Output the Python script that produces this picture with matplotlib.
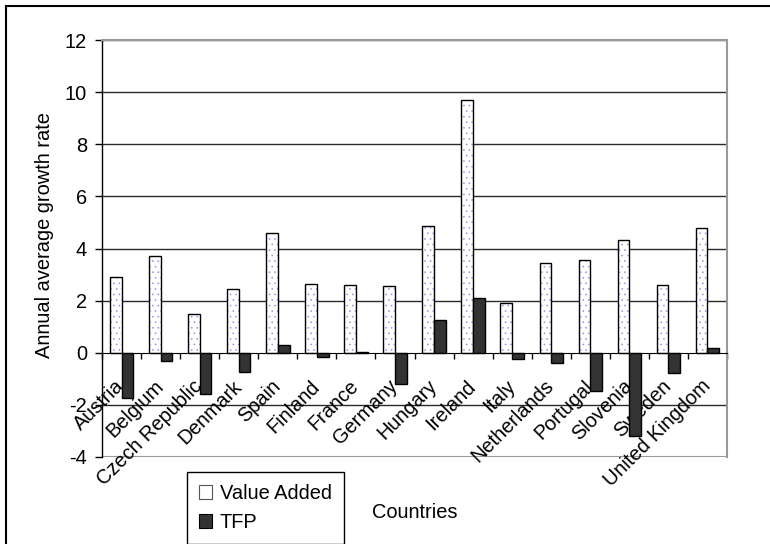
import numpy as np
import matplotlib.pyplot as plt
from matplotlib.patches import Rectangle

countries = ["Austria", "Belgium", "Czech Republic", "Denmark", "Spain", "Finland",
             "France", "Germany", "Hungary", "Ireland", "Italy", "Netherlands",
             "Portugal", "Slovenia", "Sweden", "United Kingdom"]
value_added = [2.9, 3.7, 1.5, 2.45, 4.6, 2.65, 2.6, 2.55, 4.85, 9.7, 1.9, 3.45,
               3.57, 4.32, 2.6, 4.78]
tfp = [-1.72, -0.31, -1.57, -0.72, 0.28, -0.15, 0.04, -1.2, 1.24, 2.1, -0.25,
       -0.41, -1.46, -3.18, -0.79, 0.17]
y_ticks = [-4, -2, 0, 2, 4, 6, 8, 10, 12]

plt.rcParams['font.family'] = ['Liberation Sans', 'DejaVu Sans']
plt.rcParams['hatch.linewidth'] = 0.4
FS = 14.4

fig = plt.figure(figsize=(7.7, 5.44), dpi=100)
ax = fig.add_axes([102 / 770, 1 - 457 / 544, 625 / 770, 417 / 544])

x = np.arange(len(countries))
w = 0.3

# grid lines behind everything
for yv in y_ticks[1:]:
    if yv != 0:
        ax.axhline(yv, color='#2a2a2a', lw=1, zorder=1)
ax.axhline(-4, color='#999999', lw=1.5, zorder=1)

# dotted fill for value added, outline drawn separately so dots stay blue
ax.bar(x - w / 2, value_added, w, color='white', edgecolor='#9090f0',
       hatch='...', linewidth=0, zorder=2)
ax.bar(x - w / 2, value_added, w, color='none', edgecolor='black',
       linewidth=1, zorder=3)
ax.bar(x + w / 2, tfp, w, color='#333333', edgecolor='black',
       linewidth=1, zorder=3)

ax.set_xlim(-0.5, len(countries) - 0.5)
ax.set_ylim(-4, 12)
ax.set_yticks(y_ticks)
ax.set_yticklabels([str(v) for v in y_ticks], fontsize=FS)
ax.tick_params(axis='y', direction='out', length=5, width=1, pad=5.8)

# category axis crosses at zero
ax.spines['bottom'].set_position(('data', 0))
ax.spines['bottom'].set_zorder(4)
ax.spines['left'].set_linewidth(1)
for side in ['top', 'right']:
    ax.spines[side].set_color('#999999')
    ax.spines[side].set_linewidth(1.5)

ax.set_xticks(np.arange(len(countries) + 1) - 0.5)
ax.set_xticklabels([])
ax.tick_params(axis='x', which='major', direction='out', length=4.5, width=1)
ax.set_xticks(x, minor=True)
ax.set_xticklabels(countries, minor=True, fontsize=FS)
ax.tick_params(axis='x', which='minor', length=0, pad=22)
for lbl in ax.get_xticklabels(minor=True):
    lbl.set_rotation(45)
    lbl.set_ha('right')
    lbl.set_va('center')
    lbl.set_rotation_mode('anchor')

fig.text(45 / 770, 1 - 235 / 544, 'Annual average growth rate', rotation=90,
         ha='center', va='center', fontsize=FS)
fig.text(415 / 770, 1 - 512 / 544, 'Countries', ha='center', va='center',
         fontsize=FS)

# legend handles: dotted square and dark square
h_va = Rectangle((0, 0), 1, 1, facecolor='white', edgecolor='#555555', lw=0.8)
h_tfp = Rectangle((0, 0), 1, 1, facecolor='#333333', edgecolor='black', lw=0.8)
leg = fig.legend([h_va, h_tfp], ['Value Added', 'TFP'], loc='upper left',
                 bbox_to_anchor=(187 / 770, 1 - 472 / 544), borderaxespad=0,
                 fontsize=FS, handlelength=0.65, handleheight=0.65,
                 handletextpad=0.4, borderpad=0.6, labelspacing=0.5,
                 fancybox=False, framealpha=1, edgecolor='black')
leg.get_frame().set_linewidth(1)

fig.add_artist(Rectangle((5.5 / 770, -0.05), 1.2, 1.05 - 6 / 544,
                         transform=fig.transFigure, fill=False,
                         edgecolor='black', lw=1.5))

fig.savefig('out.png', dpi=100)
